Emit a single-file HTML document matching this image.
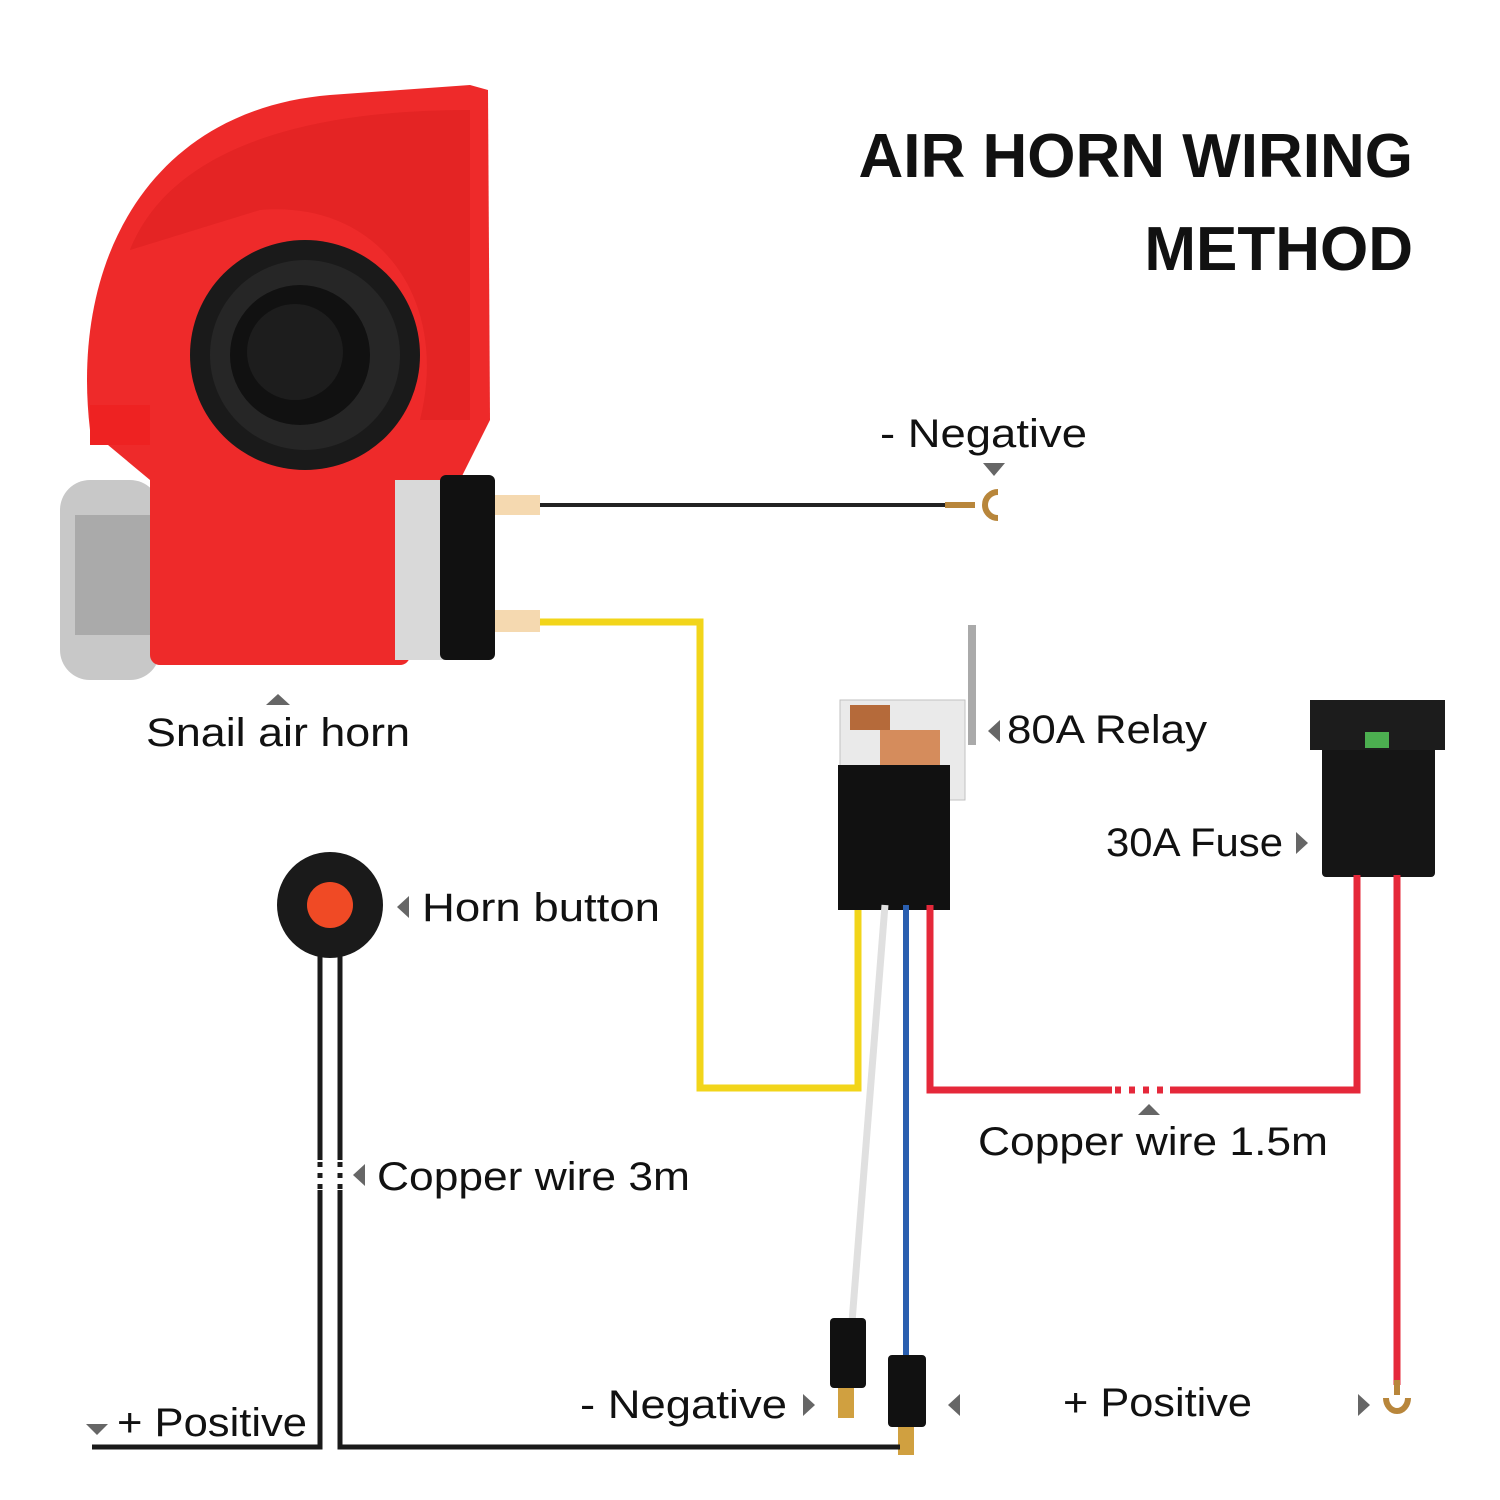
<!DOCTYPE html>
<html><head><meta charset="utf-8"><style>
html,body{margin:0;padding:0;background:#fff;}
svg{display:block;}
text{font-family:"Liberation Sans","DejaVu Sans",sans-serif;fill:#111;}
</style></head><body>
<svg width="1500" height="1500" viewBox="0 0 1500 1500" xmlns="http://www.w3.org/2000/svg">
<rect width="1500" height="1500" fill="#fff"/>
<text x="1413" y="177" font-size="62" font-weight="bold" text-anchor="end">AIR HORN WIRING</text>
<text x="1413" y="270" font-size="62" font-weight="bold" text-anchor="end">METHOD</text>

<path d="M90,430 C70,260 150,110 330,95 L470,85 L488,90 L490,420 L460,480 L150,480 Z" fill="#ee2a2a"/>
<path d="M130,250 C170,150 300,110 470,110 L470,420 L420,420 C450,300 380,200 260,210 Z" fill="#d91d1d" opacity="0.5"/>
<rect x="90" y="405" width="60" height="40" fill="#e22"/>
<circle cx="305" cy="355" r="115" fill="#1a1a1a"/>
<circle cx="305" cy="355" r="95" fill="#262626"/>
<circle cx="300" cy="355" r="70" fill="#111"/>
<circle cx="295" cy="352" r="48" fill="#1d1d1d"/>
<rect x="60" y="480" width="100" height="200" rx="30" fill="#c8c8c8"/>
<rect x="75" y="515" width="75" height="120" fill="#aaa"/>
<rect x="150" y="470" width="260" height="195" rx="10" fill="#ee2a2a"/>
<rect x="395" y="480" width="55" height="180" fill="#d9d9d9"/>
<rect x="440" y="475" width="55" height="185" rx="6" fill="#111"/>
<rect x="495" y="495" width="45" height="20" fill="#f5d9b0"/>
<rect x="495" y="610" width="45" height="22" fill="#f5d9b0"/>

<line x1="540" y1="505" x2="950" y2="505" stroke="#222" stroke-width="4"/>
<path d="M945,505 L975,505 M998,492 A13,13 0 1 0 998,518" stroke="#b8863b" stroke-width="6" fill="none"/>
<text x="880" y="447" font-size="40" textLength="207" lengthAdjust="spacingAndGlyphs">- Negative</text>
<polygon points="983,463 1005,463 994,476" fill="#666"/>

<polyline points="540,622 700,622 700,1088 858,1088 858,905" fill="none" stroke="#f2d51a" stroke-width="7"/>

<rect x="840" y="700" width="125" height="100" fill="#e8e8e8" stroke="#bbb" opacity="0.9"/>
<rect x="850" y="705" width="40" height="25" fill="#b56a3a"/>
<rect x="880" y="730" width="60" height="40" fill="#d58c5c"/>
<rect x="968" y="625" width="8" height="120" fill="#aaa"/>
<rect x="838" y="765" width="112" height="145" fill="#111"/>
<text x="1007" y="743" font-size="40" textLength="200" lengthAdjust="spacingAndGlyphs">80A Relay</text>
<polygon points="1000,720 1000,742 988,731" fill="#666"/>

<rect x="1322" y="700" width="113" height="177" rx="4" fill="#151515"/>
<rect x="1310" y="700" width="135" height="50" fill="#1c1c1c"/>
<rect x="1365" y="732" width="24" height="16" fill="#4caf50"/>
<text x="1106" y="856" font-size="40" textLength="177" lengthAdjust="spacingAndGlyphs">30A Fuse</text>
<polygon points="1296,832 1296,854 1308,843" fill="#666"/>

<polyline points="930,905 930,1090 1357,1090 1357,875" fill="none" stroke="#e5283a" stroke-width="7"/>
<rect x="1112" y="1083" width="58" height="14" fill="#fff"/>
<g stroke="#e5283a" stroke-width="7"><line x1="1115" y1="1090" x2="1121" y2="1090"/><line x1="1129" y1="1090" x2="1135" y2="1090"/><line x1="1143" y1="1090" x2="1149" y2="1090"/><line x1="1157" y1="1090" x2="1163" y2="1090"/></g>
<polygon points="1138,1115 1160,1115 1149,1104" fill="#666"/>
<text x="978" y="1155" font-size="40" textLength="350" lengthAdjust="spacingAndGlyphs">Copper wire 1.5m</text>
<line x1="1397" y1="875" x2="1397" y2="1385" stroke="#e5283a" stroke-width="7"/>
<path d="M1397,1380 L1397,1395 M1386,1398 A11,13 0 1 0 1408,1398" stroke="#b8863b" stroke-width="6" fill="none"/>

<line x1="885" y1="905" x2="852" y2="1322" stroke="#e0e0e0" stroke-width="7"/>
<line x1="906" y1="905" x2="906" y2="1360" stroke="#2a5fb0" stroke-width="6"/>
<rect x="830" y="1318" width="36" height="70" rx="4" fill="#111"/>
<rect x="838" y="1388" width="16" height="30" fill="#d0a040"/>
<rect x="888" y="1355" width="38" height="72" rx="4" fill="#111"/>
<rect x="898" y="1427" width="16" height="28" fill="#d0a040"/>

<circle cx="330" cy="905" r="53" fill="#1a1a1a"/>
<circle cx="330" cy="905" r="23" fill="#f04a25"/>
<text x="422" y="921" font-size="40" textLength="238" lengthAdjust="spacingAndGlyphs">Horn button</text>
<polygon points="409,896 409,918 397,907" fill="#666"/>

<polyline points="320,955 320,1447 92,1447" fill="none" stroke="#1a1a1a" stroke-width="5"/>
<polyline points="340,955 340,1447 900,1447" fill="none" stroke="#1a1a1a" stroke-width="5"/>
<rect x="312" y="1160" width="36" height="30" fill="#fff"/>
<g stroke="#1a1a1a" stroke-width="5"><line x1="320" y1="1162" x2="320" y2="1167"/><line x1="320" y1="1173" x2="320" y2="1178"/><line x1="320" y1="1184" x2="320" y2="1189"/><line x1="340" y1="1162" x2="340" y2="1167"/><line x1="340" y1="1173" x2="340" y2="1178"/><line x1="340" y1="1184" x2="340" y2="1189"/></g>
<polygon points="365,1164 365,1186 353,1175" fill="#666"/>
<text x="377" y="1190" font-size="40" textLength="313" lengthAdjust="spacingAndGlyphs">Copper wire 3m</text>

<polygon points="266,705 290,705 278,694" fill="#666"/>
<text x="146" y="746" font-size="40" textLength="264" lengthAdjust="spacingAndGlyphs">Snail air horn</text>

<polygon points="86,1424 108,1424 97,1435" fill="#666"/>
<text x="117" y="1436" font-size="40" textLength="190" lengthAdjust="spacingAndGlyphs">+ Positive</text>
<text x="580" y="1418" font-size="40" textLength="207" lengthAdjust="spacingAndGlyphs">- Negative</text>
<polygon points="803,1394 803,1416 815,1405" fill="#666"/>
<polygon points="960,1394 960,1416 948,1405" fill="#666"/>
<text x="1063" y="1416" font-size="40" textLength="189" lengthAdjust="spacingAndGlyphs">+ Positive</text>
<polygon points="1358,1394 1358,1416 1370,1405" fill="#666"/>
</svg>
</body></html>
